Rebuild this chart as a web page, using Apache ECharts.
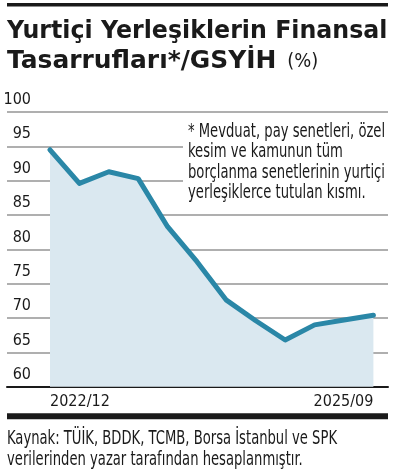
<!DOCTYPE html>
<html><head><meta charset="utf-8">
<script src="https://cdn.jsdelivr.net/npm/echarts@6/dist/echarts.min.js"></script>
<style>html,body{margin:0;padding:0;background:#fff}#c{width:402px;height:473px}</style>
</head><body><div id="c"></div>
<script>
const categories = ['2022/12','2023/03','2023/06','2023/09','2023/12','2024/03','2024/06','2024/09','2024/12','2025/03','2025/06','2025/09'];
const values = [94.5, 89.6, 91.3, 90.3, 83.3, 78.2, 72.6, 69.6, 66.8, 69.0, 69.7, 70.4];
const shownXLabels = ['2022/12', '2025/09'];
const yMin = 60, yMax = 100, yStep = 5;
const titleLine1 = 'Yurtiçi Yerleşiklerin Finansal';
const titleLine2 = 'Tasarrufları*/GSYİH';
const titleUnit = '(%)';
const noteLines = ['* Mevduat, pay senetleri, özel', 'kesim ve kamunun tüm', 'borçlanma senetlerinin yurtiçi', 'yerleşiklerce tutulan kısmı.'];
const sourceLines = ['Kaynak: TÜİK, BDDK, TCMB, Borsa İstanbul ve SPK', 'verilerinden yazar tarafından hesaplanmıştır.'];

const COND = "'DejaVu Sans Condensed', 'DejaVu Sans', sans-serif";
const INK = '#1a1a1a';

const mctx = document.createElement('canvas').getContext('2d');
function fit(text, font, target) { mctx.font = font; return target / mctx.measureText(text).width; }

const F_TITLE = "bold 25px 'DejaVu Sans', sans-serif";
const F_UNIT = "20px " + COND;
const F_NOTE = "19.5px " + COND;
const F_SRC = "20px " + COND;

const chart = echarts.init(document.getElementById('c'), null, {renderer: 'canvas'});
const gridTop = 112, gridBottom = 473 - 386.7;
chart.setOption({
  animation: false,
  backgroundColor: '#fff',
  grid: [
    {left: 7, right: 14, top: gridTop, bottom: gridBottom},
    {left: 50, right: 28.6, top: gridTop, bottom: gridBottom}
  ],
  xAxis: [
    {gridIndex: 0, type: 'value', min: 0, max: 1, show: true,
     axisLine: {show: true, onZero: false, lineStyle: {color: INK, width: 2}},
     axisTick: {show: false}, axisLabel: {show: false}, splitLine: {show: false}},
    {gridIndex: 1, type: 'category', data: categories, boundaryGap: false,
     axisLine: {show: false}, axisTick: {show: false},
     axisLabel: {
       interval: (i, v) => shownXLabels.indexOf(v) >= 0,
       alignMinLabel: 'left', alignMaxLabel: 'right',
       margin: 7, color: INK, fontFamily: COND, fontSize: 16
     }}
  ],
  yAxis: [
    {gridIndex: 0, type: 'value', min: yMin, max: yMax, interval: yStep,
     axisLine: {show: false}, axisTick: {show: false},
     splitLine: {show: true, lineStyle: {color: '#959595', width: 1.5}},
     axisLabel: {inside: true, margin: 24, align: 'right', verticalAlign: 'bottom',
       lineHeight: 24, color: INK, fontFamily: COND, fontSize: 16}},
    {gridIndex: 1, type: 'value', min: yMin, max: yMax, interval: yStep, show: false}
  ],
  series: [{
    type: 'line', xAxisIndex: 1, yAxisIndex: 1, data: values,
    symbol: 'none', z: 3,
    lineStyle: {color: '#2a87a7', width: 5, cap: 'round', join: 'round'},
    areaStyle: {color: '#dae8f0', opacity: 1, origin: 'start'}
  }],
  graphic: [
    {type: 'rect', shape: {x: 7, y: 3, width: 381, height: 3.5}, style: {fill: INK}},
    {type: 'text', x: 7, y: 31, scaleX: fit(titleLine1, F_TITLE, 380.5),
     style: {text: titleLine1, font: F_TITLE, fill: INK, verticalAlign: 'middle'}},
    {type: 'text', x: 7, y: 61.5, scaleX: fit(titleLine2, F_TITLE, 269.4),
     style: {text: titleLine2, font: F_TITLE, fill: INK, verticalAlign: 'middle'}},
    {type: 'text', x: 287.3, y: 62, scaleX: fit(titleUnit, F_UNIT, 31),
     style: {text: titleUnit, font: F_UNIT, fill: INK, verticalAlign: 'middle'}},
    {type: 'rect', z: 5, shape: {x: 183, y: 115, width: 210, height: 98}, style: {fill: '#fff'}},
    {type: 'text', z: 6, x: 188, y: 121.5, scaleX: fit(noteLines[2], F_NOTE, 197),
     style: {text: noteLines.join('\n'), font: F_NOTE, lineHeight: 20.5, fill: INK, verticalAlign: 'top'}},
    {type: 'rect', shape: {x: 7, y: 413.3, width: 381, height: 6}, style: {fill: INK}},
    {type: 'text', x: 7, y: 427.5, scaleX: fit(sourceLines[0], F_SRC, 330),
     style: {text: sourceLines.join('\n'), font: F_SRC, lineHeight: 21.7, fill: INK, verticalAlign: 'top'}}
  ]
});
</script>
</body></html>
